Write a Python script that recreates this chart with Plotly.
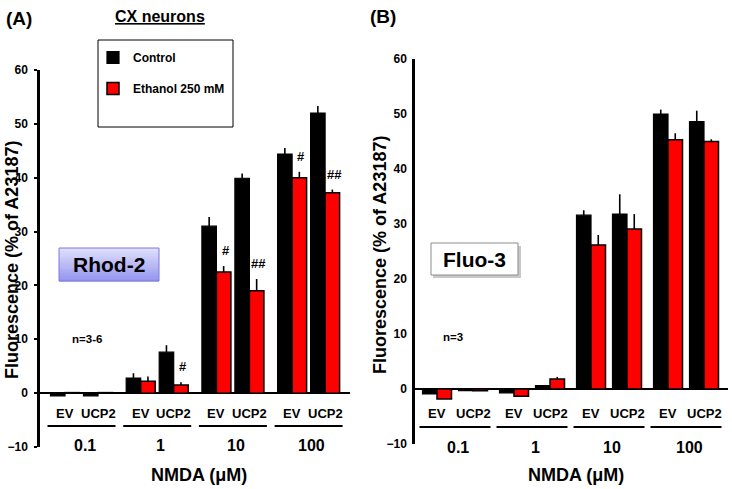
import plotly.graph_objects as go

W, H = 732, 489
FONT = "Arial, Liberation Sans, sans-serif"

groups = ["0.1", "1", "10", "100"]
cells = ["EV", "UCP2"]

# Rhod-2 (panel A), order: 0.1 EV, 0.1 UCP2, 1 EV, 1 UCP2, 10 EV, ...
rhod_ctrl = [-0.5, -0.5, 2.8, 7.6, 31.0, 39.9, 44.4, 52.0]
rhod_ctrl_err = [0, 0, 0.9, 1.3, 1.7, 0.9, 1.1, 1.3]
rhod_eth = [0.1, 0.1, 2.2, 1.5, 22.5, 19.0, 40.0, 37.2]
rhod_eth_err = [0, 0, 0.9, 0.5, 1.1, 2.2, 1.1, 0.6]
rhod_marks = ["", "", "", "#", "#", "##", "#", "##"]

# Fluo-3 (panel B)
fluo_ctrl = [-0.9, -0.3, -0.7, 0.6, 31.6, 31.8, 50.0, 48.6]
fluo_ctrl_err = [0, 0, 0, 0, 0.9, 3.6, 0.8, 2.0]
fluo_eth = [-1.8, -0.3, -1.3, 1.8, 26.2, 29.1, 45.3, 45.0]
fluo_eth_err = [0, 0, 0, 0.4, 1.8, 2.7, 1.2, 0.4]

y_ticks = [-10, 0, 10, 20, 30, 40, 50, 60]


def px(p):
    return p / W


def py(p):
    return 1 - p / H


def label(x, y, text, size, xref="paper", yref="paper", **kw):
    return dict(x=x, y=y, xref=xref, yref=yref, text=text, showarrow=False,
                xanchor=kw.pop("xanchor", "center"), yanchor=kw.pop("yanchor", "middle"),
                font=dict(size=size, family=FONT, color="black"), **kw)


BW = 14.5


def centers(start, gstep, kstep):
    return [start + g * gstep + k * kstep for g in range(len(groups)) for k in range(len(cells))]


panels = [
    dict(xa="x", ya="y", x0=40, x1=350, c=centers(25, 75.7, 33),
         ctrl=rhod_ctrl, ctrl_err=rhod_ctrl_err, eth=rhod_eth, eth_err=rhod_eth_err,
         cell_y=413, line_y=426, grp_y=445),
    dict(xa="x2", ya="y2", x0=415, x1=728, c=centers(22, 77, 36),
         ctrl=fluo_ctrl, ctrl_err=fluo_ctrl_err, eth=fluo_eth, eth_err=fluo_eth_err,
         cell_y=413, line_y=427, grp_y=447),
]

fig = go.Figure()
annotations = []
shapes = []

for i, p in enumerate(panels):
    first = i == 0
    fig.add_trace(go.Bar(
        x=p["c"], y=p["ctrl"], width=BW, offset=-BW, xaxis=p["xa"], yaxis=p["ya"],
        name="Control", legendgroup="c", showlegend=first,
        marker=dict(color="black", line=dict(color="black", width=1.2)),
        error_y=dict(type="data", symmetric=False, array=p["ctrl_err"],
                     arrayminus=[0] * len(p["ctrl"]), color="black", thickness=1.6, width=0),
    ))
    fig.add_trace(go.Bar(
        x=p["c"], y=p["eth"], width=BW, offset=0, xaxis=p["xa"], yaxis=p["ya"],
        name="Ethanol 250 mM", legendgroup="e", showlegend=first,
        marker=dict(color="#ff0000", line=dict(color="black", width=1.5)),
        error_y=dict(type="data", symmetric=False, array=p["eth_err"],
                     arrayminus=[0] * len(p["eth"]), color="black", thickness=1.6, width=0),
    ))

    # cell labels and group underlines
    for j, cx in enumerate(p["c"]):
        annotations.append(label(cx, py(p["cell_y"]), "<b>%s</b>" % cells[j % 2], 13, xref=p["xa"]))
    for g, name in enumerate(groups):
        left = p["c"][2 * g] - BW - 3
        right = p["c"][2 * g + 1] + BW + 3
        shapes.append(dict(type="line", xref=p["xa"], yref="paper", x0=left, x1=right,
                           y0=py(p["line_y"]), y1=py(p["line_y"]),
                           line=dict(color="black", width=2)))
        annotations.append(label((left + right) / 2 + 3, py(p["grp_y"]), "<b>%s</b>" % name, 16,
                                 xref=p["xa"]))
    annotations.append(label(px((p["x0"] + p["x1"]) / 2 + 4), py(475), "<b>NMDA (\u03bcM)</b>", 18))

# significance marks panel A
for cx, v, e, m in zip(panels[0]["c"], rhod_eth, rhod_eth_err, rhod_marks):
    if m:
        annotations.append(label(cx + BW / 2 + 2, v + e, "<b>%s</b>" % m, 13, xref="x", yref="y",
                                 yanchor="bottom", yshift=6))

common_y = dict(range=[-10, 60], tickvals=y_ticks, showgrid=False, showline=True,
                linecolor="black", linewidth=2.5, zeroline=True, zerolinecolor="black",
                zerolinewidth=2, tickfont=dict(size=12, family=FONT, color="black", weight="bold"),
                tickcolor="black", ticklen=3, tickwidth=1.5, automargin=False)

fig.update_layout(
    width=W, height=H,
    margin=dict(l=0, r=0, t=0, b=0, autoexpand=False),
    paper_bgcolor="white", plot_bgcolor="white",
    barmode="overlay",
    font=dict(family=FONT, color="black"),
    xaxis=dict(domain=[px(40), px(350)], range=[0, 310], visible=False, anchor="y"),
    xaxis2=dict(domain=[px(415), px(728)], range=[0, 313], visible=False, anchor="y2"),
    yaxis=dict(domain=[py(447), py(70)], anchor="x", ticks="outside",
               ticklabelstandoff=4, **common_y),
    yaxis2=dict(domain=[py(444), py(59)], anchor="x2", ticks="",
                ticklabelstandoff=3, **common_y),
    legend=dict(x=px(93), y=py(43), xanchor="left", yanchor="top", bgcolor="rgba(0,0,0,0)",
                traceorder="grouped", tracegroupgap=12,
                font=dict(size=12, family=FONT, color="black", weight="bold")),
)

# legend box
shapes.append(dict(type="rect", xref="paper", yref="paper", x0=px(98), x1=px(233),
                   y0=py(127), y1=py(40), line=dict(color="black", width=1)))

# Rhod-2 label box with vertical gradient
n_strips = 12
top, bottom = (222, 222, 252), (150, 150, 238)
bx0, bx1, by0, by1 = 59, 159, 248, 281
for s in range(n_strips):
    t = s / (n_strips - 1)
    col = "rgb(%d,%d,%d)" % tuple(round(a + (b - a) * t) for a, b in zip(top, bottom))
    y0 = by0 + s * (by1 - by0) / n_strips
    shapes.append(dict(type="rect", xref="paper", yref="paper", x0=px(bx0), x1=px(bx1),
                       y0=py(y0 + (by1 - by0) / n_strips + 0.4), y1=py(y0), fillcolor=col,
                       line=dict(width=0), layer="above"))
shapes.append(dict(type="rect", xref="paper", yref="paper", x0=px(bx0), x1=px(bx1),
                   y0=py(by1), y1=py(by0), line=dict(color="#7b7be0", width=1), layer="above"))
annotations.append(label(px((bx0 + bx1) / 2), py((by0 + by1) / 2), "<b>Rhod-2</b>", 21))

# Fluo-3 label box with a soft shadow
shapes.append(dict(type="rect", xref="paper", yref="paper", x0=px(433), x1=px(521),
                   y0=py(278), y1=py(246), fillcolor="#c8c8c8", line=dict(width=0), layer="above"))
shapes.append(dict(type="rect", xref="paper", yref="paper", x0=px(431), x1=px(518),
                   y0=py(275), y1=py(243), fillcolor="white", line=dict(color="#8c8c8c", width=1),
                   layer="above"))
annotations.append(label(px(474.5), py(259), "<b>Fluo-3</b>", 21))

# panel texts
annotations += [
    label(px(4), py(18), "<b>(A)</b>", 19, xanchor="left"),
    label(px(383), py(17), "<b>(B)</b>", 19),
    label(px(160), py(17), "<b><u>CX neurons</u></b>", 16),
    label(px(87), py(339), "<b>n=3-6</b>", 11.5),
    label(px(453), py(337), "<b>n=3</b>", 11.5),
    label(px(12), py(260), "<b>Fluorescence (% of A23187)</b>", 18, textangle=-90),
    label(px(380), py(255), "<b>Fluorescence (% of A23187)</b>", 18, textangle=-90),
]

fig.update_layout(annotations=annotations, shapes=shapes)
fig.write_html("out.html", config={"displayModeBar": False},
               post_script="document.body.style.margin = '0';")
